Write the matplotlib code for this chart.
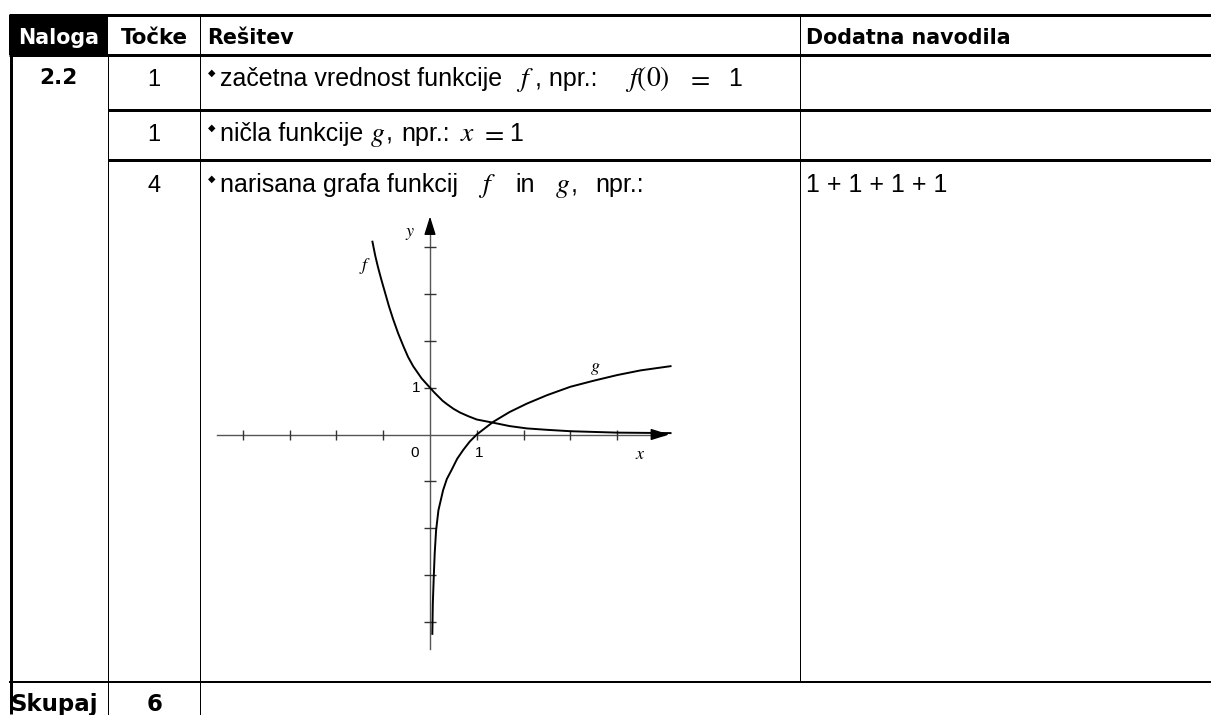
import matplotlib
matplotlib.use('Agg')
import matplotlib.pyplot as plt

plt.rcParams['mathtext.fontset'] = 'stix'

# table content
headers = ['Naloga', 'Točke', 'Rešitev', 'Dodatna navodila']
naloga = '2.2'
tocke = ['1', '1', '4']
# each answer line: (text, is_math, gap after in px)
resitev = [
    [('začetna vrednost funkcije', False, 14), ('$f$', True, 1), (', npr.:', False, 28),
     (r'$f\left(0\right)$', True, 16), ('$=$', True, 18), ('1', False, 0)],
    [('ničla funkcije', False, 7), ('$g$', True, 0), (',', False, 9), ('npr.:', False, 10),
     ('$x$', True, 5), ('$=$', True, 5), ('1', False, 0)],
    [('narisana grafa funkcij', False, 20), ('$f$', True, 20), ('in', False, 20),
     ('$g$', True, 0), (',', False, 18), ('npr.:', False, 0)],
]
navodila = ['', '', '1 + 1 + 1 + 1']
skupaj = ['Skupaj', '6']

# curves (x, y in graph units)
f_x = [-1.23, -1.17, -1.11, -1.04, -0.96, -0.88, -0.79, -0.68, -0.57, -0.47, -0.36, -0.27,
       -0.18, -0.09, 0.0, 0.09, 0.18, 0.27, 0.36, 0.5, 0.64, 0.82, 1.0, 1.36, 1.7, 2.07,
       2.5, 3.0, 4.0, 5.14]
f_y = [4.12, 3.82, 3.57, 3.31, 3.03, 2.75, 2.47, 2.16, 1.89, 1.66, 1.46, 1.33,
       1.20, 1.10, 1.0, 0.90, 0.81, 0.72, 0.65, 0.55, 0.47, 0.39, 0.32, 0.25, 0.18, 0.13,
       0.10, 0.07, 0.04, 0.03]
g_x = [0.05, 0.06, 0.08, 0.10, 0.13, 0.18, 0.28, 0.36, 0.46, 0.58, 0.71, 0.85, 1.0,
       1.35, 1.7, 2.07, 2.5, 3.0, 3.5, 4.0, 4.5, 5.14]
g_y = [-4.26, -3.62, -3.05, -2.55, -2.05, -1.62, -1.19, -0.95, -0.76, -0.52, -0.33, -0.15, 0.0,
       0.27, 0.48, 0.66, 0.84, 1.02, 1.15, 1.27, 1.37, 1.46]
x_ticks = [-4, -3, -2, -1, 1, 2, 3, 4]
y_ticks = [-4, -3, -2, -1, 1, 2, 3, 4]

body_font = 'Liberation Sans'
head_font = 'DejaVu Sans'
body_size = 18
math_size = 20

W, H = 1211, 715
fig = plt.figure(figsize=(W / 100, H / 100), dpi=100)
renderer = fig.canvas.get_renderer()
tab = fig.add_axes([0, 0, 1, 1])
tab.set_xlim(0, W)
tab.set_ylim(H, 0)
tab.axis('off')

def px(w):
    return w * 0.72

def hline(y, x0, x1, w):
    tab.plot([x0, x1], [y, y], color='black', lw=px(w), solid_capstyle='butt')

def vline(x, y0, y1, w):
    tab.plot([x, x], [y0, y1], color='black', lw=px(w), solid_capstyle='butt')

# header cell
tab.fill_between([9, 108], 15, 55, color='black', lw=0)

hline(15, 9, W, 3)
hline(55, 9, W, 3)
hline(110, 108, W, 3)
hline(160, 108, W, 3)
hline(682, 9, W, 2)
vline(10.5, 15, 714, 3)
vline(108, 55, H, 1)
vline(200, 15, H, 1)
vline(800, 15, 682, 1)

tab.text(58.5, 44.5, headers[0], color='white', ha='center', va='baseline',
         family=head_font, weight='bold', fontsize=14.9)
tab.text(154, 44.5, headers[1], ha='center', va='baseline',
         family=head_font, weight='bold', fontsize=15.4)
tab.text(207, 44.5, headers[2], ha='left', va='baseline',
         family=head_font, weight='bold', fontsize=14.9)
tab.text(806, 44.5, headers[3], ha='left', va='baseline',
         family=head_font, weight='bold', fontsize=14.9)

tab.text(58.5, 84, naloga, ha='center', va='baseline',
         family=head_font, weight='bold', fontsize=15.5)

baselines = [86, 141, 192]
for i, base in enumerate(baselines):
    tab.text(154, base, tocke[i], ha='center', va='baseline',
             family=body_font, fontsize=17)
    tab.text(212, base - 13, '\u25c6', ha='center', va='center',
             family='DejaVu Sans', fontsize=7)
    x = 220
    for txt, is_math, gap in resitev[i]:
        t = tab.text(x, base, txt, ha='left', va='baseline', family=body_font,
                     fontsize=math_size if is_math else body_size)
        x += t.get_window_extent(renderer).width + gap
    if navodila[i]:
        tab.text(806, base, navodila[i], ha='left', va='baseline',
                 family=body_font, fontsize=body_size)

tab.text(54, 711, skupaj[0], ha='center', va='baseline',
         family=head_font, weight='bold', fontsize=16.5)
tab.text(154.5, 711, skupaj[1], ha='center', va='baseline',
         family=head_font, weight='bold', fontsize=16.5)

# graph
ox, oy, unit = 430, 434.5, 46.8
xlim = (-4.7, 5.4)
ylim = (-4.8, 4.9)
left = ox + xlim[0] * unit
right = ox + xlim[1] * unit
top = oy - ylim[1] * unit
bottom = oy - ylim[0] * unit
ax = fig.add_axes([left / W, (H - bottom) / H, (right - left) / W, (bottom - top) / H])
ax.set_xlim(*xlim)
ax.set_ylim(*ylim)
ax.axis('off')

axis_color = '#555555'
ax.plot([-4.55, 5.0], [0, 0], color=axis_color, lw=1.0)
ax.plot([0, 0], [-4.58, 4.5], color=axis_color, lw=1.0)
ax.annotate('', xy=(5.17, 0), xytext=(4.85, 0),
            arrowprops=dict(arrowstyle='-|>,head_length=0.8,head_width=0.25',
                            color='black', lw=1, mutation_scale=14))
ax.annotate('', xy=(0, 4.72), xytext=(0, 4.4),
            arrowprops=dict(arrowstyle='-|>,head_length=0.8,head_width=0.25',
                            color='black', lw=1, mutation_scale=14))
ax.plot(x_ticks, [0] * len(x_ticks), ls='none', marker='|', ms=7.5,
        mew=1, color='#333333')
ax.plot([0] * len(y_ticks), y_ticks, ls='none', marker='_', ms=8.5,
        mew=1, color='#333333')

ax.plot(f_x, f_y, color='black', lw=1.4)
ax.plot(g_x, g_y, color='black', lw=1.4)

ax.text(-0.32, -0.4, '0', ha='center', va='center', family=body_font, fontsize=11)
ax.text(1.05, -0.4, '1', ha='center', va='center', family=body_font, fontsize=11)
ax.text(-0.3, 1.0, '1', ha='center', va='center', family=body_font, fontsize=11)
ax.text(4.5, -0.42, '$x$', ha='center', va='center', fontsize=13)
ax.text(-0.42, 4.3, '$y$', ha='center', va='center', fontsize=13)
ax.text(-1.38, 3.6, '$f$', ha='center', va='center', fontsize=13)
ax.text(3.53, 1.43, '$g$', ha='center', va='center', fontsize=13)

fig.savefig('out.png', dpi=100)
